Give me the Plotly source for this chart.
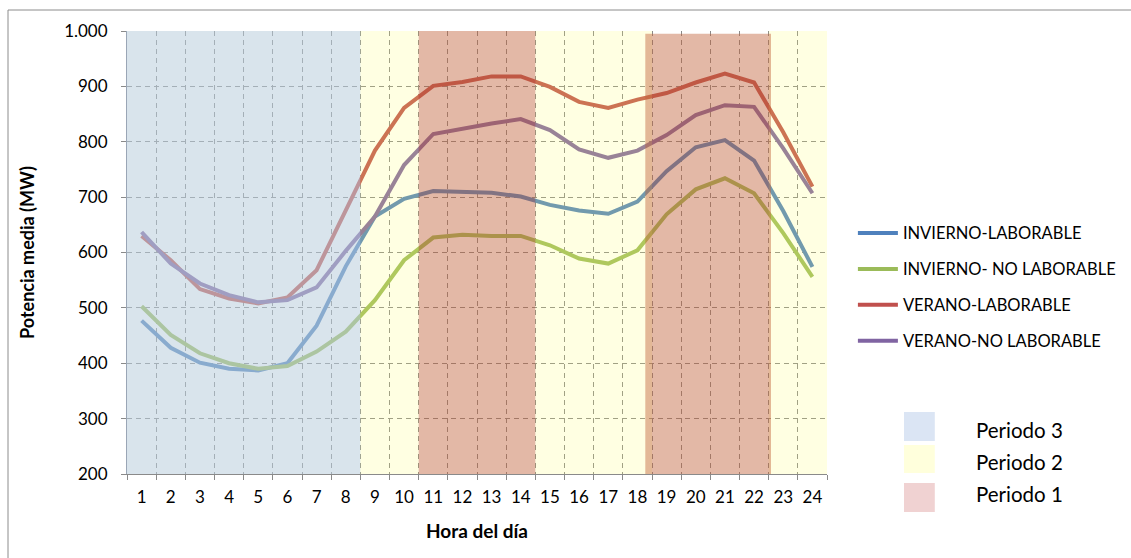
import plotly.graph_objects as go

HORAS = [str(h) for h in range(1, 25)]

INVIERNO_LAB = [477, 428, 401, 390, 387, 400, 468, 575, 665, 697, 711, 709,
                708, 701, 686, 676, 670, 692, 747, 790, 803, 766, 675, 574]
INVIERNO_NOLAB = [503, 451, 418, 400, 390, 395, 421, 457, 514, 586, 627, 632,
                  630, 630, 613, 589, 580, 604, 669, 714, 734, 707, 635, 556]
VERANO_LAB = [630, 586, 534, 517, 508, 519, 568, 678, 784, 861, 901, 908,
              918, 918, 899, 872, 861, 876, 888, 907, 923, 907, 817, 719]
VERANO_NOLAB = [637, 580, 544, 523, 510, 514, 537, 603, 665, 758, 814, 824,
                833, 841, 821, 786, 771, 784, 812, 848, 866, 863, 788, 707]

SERIES_NOMBRES = ['INVIERNO-LABORABLE', 'INVIERNO- NO LABORABLE',
                  'VERANO-LABORABLE', 'VERANO-NO LABORABLE']
SERIES_VALORES = [INVIERNO_LAB, INVIERNO_NOLAB, VERANO_LAB, VERANO_NOLAB]
SERIES_COLORES = ['#4F81BD', '#9BBB59', '#C0504D', '#8064A2']

# franjas horarias (limites en horas, como se ven en el grafico)
PERIODO_3 = [(0.5, 8.5, 1000)]
PERIODO_2 = [(8.5, 10.5, 1000), (14.5, 18.5, 1000), (22.5, 24.5, 1000)]
PERIODO_1 = [(10.5, 14.5, 1000), (18.27, 22.58, 995)]
PERIODOS = ['Periodo 3', 'Periodo 2', 'Periodo 1']

FONT = 'Lato'

fig = go.Figure()
for nombre, valores, color in zip(SERIES_NOMBRES, SERIES_VALORES, SERIES_COLORES):
    fig.add_trace(go.Scatter(
        x=HORAS, y=valores, name=nombre, mode='lines', legendgroup=nombre,
        line={'color': color, 'width': 4}
    ))

# sombreado de periodos, encima de las lineas (como en el original)
fills = {
    'p3': 'rgba(186,206,220,0.55)',
    'p2': 'rgba(255,255,110,0.2)',
    'p1': 'rgba(193,97,57,0.45)',
}
for key, spans in (('p3', PERIODO_3), ('p2', PERIODO_2), ('p1', PERIODO_1)):
    for h0, h1, top in spans:
        fig.add_shape(type='rect', xref='x', yref='y', x0=h0 - 1, x1=h1 - 1,
                      y0=200, y1=top, fillcolor=fills[key], line={'width': 0},
                      layer='above')

# leyenda de periodos
swatch = ['#DBE5F4', '#FFFFDC', '#F0D2D2']
sq_y = [(0.0745, 0.14), (0.0023, 0.0655), (-0.0858, -0.0203)]
txt_y = [0.0993, 0.0271, -0.0451]
for nombre, col, (y0, y1), ty in zip(PERIODOS, swatch, sq_y, txt_y):
    fig.add_shape(type='rect', xref='paper', yref='paper', x0=1.11, x1=1.154,
                  y0=y0, y1=y1, fillcolor=col, line={'width': 0})
    fig.add_annotation(x=1.21, y=ty, xref='paper', yref='paper', text=nombre,
                       showarrow=False, xanchor='left', yanchor='middle',
                       font={'size': 20.5, 'color': 'black', 'family': FONT})

# marco exterior
fig.add_shape(type='rect', xref='paper', yref='paper', x0=-0.17, x1=1.5,
              y0=-0.25, y1=1.0474, line={'color': '#8c8c8c', 'width': 1},
              fillcolor='rgba(0,0,0,0)', layer='below')

grid = {'showgrid': True, 'gridcolor': '#8a8a8a', 'gridwidth': 1, 'griddash': '5px,4px'}

fig.update_layout(
    width=1131, height=558,
    margin={'t': 31, 'r': 304, 'b': 84, 'l': 127, 'autoexpand': False},
    paper_bgcolor='white', plot_bgcolor='white',
    separators=',.',
    font={'family': FONT, 'size': 17, 'color': 'black'},
    showlegend=True,
    legend={'x': 1.037, 'y': 0.583, 'xanchor': 'left', 'yanchor': 'top',
            'font': {'size': 16.5, 'family': FONT}, 'itemwidth': 40,
            'tracegroupgap': 11.5, 'bgcolor': 'rgba(0,0,0,0)'},
    xaxis={'type': 'category', 'tickson': 'boundaries', 'ticks': 'outside',
           'ticklen': 5, 'tickcolor': '#8a8a8a', 'showline': True,
           'linecolor': '#8a8a8a', 'ticklabelstandoff': 8, 'tickangle': 0,
           'title': {'text': '<b>Hora del día</b>', 'standoff': 18,
                     'font': {'size': 19}},
           **grid},
    yaxis={'range': [200, 1000], 'dtick': 100, 'tick0': 200, 'ticks': 'outside',
           'ticklen': 5, 'tickcolor': '#8a8a8a', 'showline': True,
           'linecolor': '#9aa6b6', 'separatethousands': True,
           'ticklabelstandoff': 10,
           'title': {'text': '<b>Potencia media (MW)</b>', 'standoff': 24,
                     'font': {'size': 18}},
           **grid},
)

fig.write_html('out.html', config={'displayModeBar': False},
               post_script="document.body.style.margin='0';")
